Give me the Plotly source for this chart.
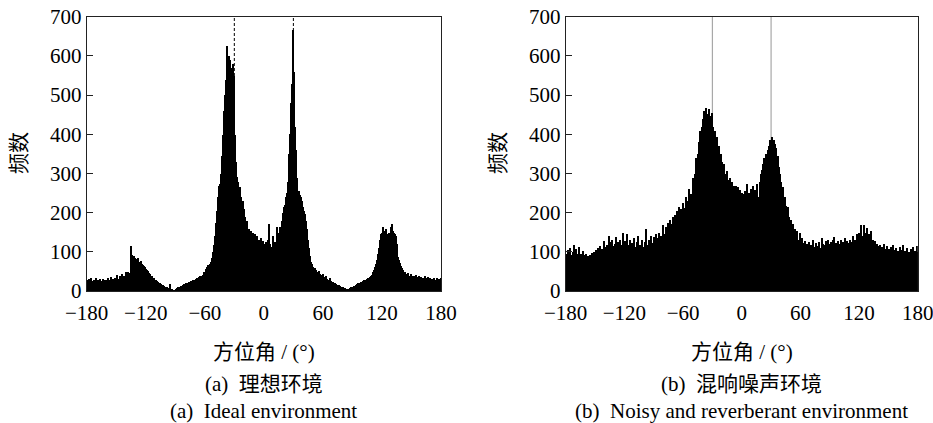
import numpy as np
import plotly.graph_objects as go

# ---------------- data ----------------
bin_start = -180
bin_width = 1

ideal_counts = [
    28, 22, 31, 25, 34, 27, 24, 30, 26, 33,      # -180..-171
    25, 29, 23, 31, 27, 26, 32, 24, 28, 30,      # -170..-161
    27, 33, 25, 29, 36, 28, 31, 26, 34, 30,      # -160..-151
    42, 32, 29, 38, 33, 45, 36, 40, 37, 48,      # -150..-141
    44, 50, 47, 45, 115, 92, 88, 90, 85, 82,     # -140..-131
    80, 84, 76, 74, 78, 70, 68, 65, 61, 58,      # -130..-121
    55, 52, 48, 46, 43, 40, 38, 35, 33, 30,      # -120..-111
    28, 26, 24, 22, 20, 19, 17, 15, 14, 12,      # -110..-101
    11, 10, 9, 8, 18, 7, 5, 4, 3, 4,             # -100..-91
    5, 8, 10, 9, 12, 14, 13, 16, 18, 17,         # -90..-81
    20, 19, 22, 24, 23, 26, 25, 28, 30, 29,      # -80..-71
    32, 34, 31, 36, 38, 35, 40, 42, 48, 45,      # -70..-61
    58, 62, 66, 64, 70, 75, 72, 85, 100, 118,    # -60..-51
    140, 175, 205, 240, 268, 275, 300, 345, 400, 460,  # -50..-41
    500, 540, 625, 585, 600, 590, 570, 545, 580, 550,  # -40..-31
    400, 330, 292, 280, 258, 265, 240, 224, 230, 210,  # -30..-21
    190, 175, 180, 150, 160, 145, 155, 135, 150, 128,  # -20..-11
    147, 125, 140, 118, 130, 122, 135, 115, 128, 120,  # -10..-1
    118, 125, 112, 130, 173, 120, 108, 113, 140, 118,  # 0..9
    110, 125, 105, 164, 120, 150, 164, 145, 180, 200,  # 10..19
    215, 220, 240, 250, 280, 350, 402, 480, 530, 666,  # 20..29
    560, 420, 360, 290, 249, 255, 245, 240, 230, 215,  # 30..39
    205, 198, 180, 160, 130, 110, 90, 75, 70, 62,      # 40..49
    58, 60, 54, 50, 48, 52, 44, 42, 40, 45,      # 50..59
    37, 35, 38, 32, 30, 28, 33, 26, 25, 23,      # 60..69
    20, 22, 19, 18, 17, 15, 16, 14, 12, 11,      # 70..79
    10, 9, 8, 7, 6, 5, 7, 8, 10, 9,              # 80..89
    12, 14, 13, 16, 18, 20, 19, 22, 24, 23,      # 90..99
    26, 28, 27, 30, 32, 35, 34, 37, 40, 42,      # 100..109
    48, 55, 62, 70, 80, 95, 110, 130, 147, 150,  # 110..119
    164, 155, 150, 160, 147, 145, 150, 140, 165, 173,  # 120..129
    155, 150, 147, 140, 120, 100, 88, 80, 72, 65,      # 130..139
    60, 54, 50, 48, 45, 42, 47, 40, 38, 44,      # 140..149
    37, 40, 35, 38, 42, 36, 33, 39, 34, 37,      # 150..159
    32, 35, 30, 38, 33, 29, 36, 31, 34, 28,      # 160..169
    32, 27, 35, 30, 26, 33, 29, 31, 28, 34,      # 170..179
]

noisy_counts = [
    95, 70, 105, 88, 110, 92, 85, 100, 118, 90,        # -180..-171
    108, 82, 96, 112, 78, 94, 88, 102, 86, 92,         # -170..-161
    95, 78, 90, 85, 93, 88, 97, 84, 100, 91,           # -160..-151
    105, 92, 110, 88, 115, 98, 108, 94, 128, 102,      # -150..-141
    112, 118, 96, 140, 110, 125, 103, 130, 115, 108,   # -140..-131
    120, 138, 112, 125, 100, 132, 118, 106, 150, 115,  # -130..-121
    128, 104, 145, 118, 110, 130, 98, 122, 108, 135,   # -120..-111
    112, 100, 126, 140, 105, 118, 96, 130, 112, 108,   # -110..-101
    125, 158, 110, 118, 132, 105, 140, 122, 115, 138,  # -100..-91
    128, 112, 145, 120, 135, 150, 118, 140, 132, 170,  # -90..-81
    145, 138, 165, 130, 175, 150, 182, 160, 172, 190,  # -80..-71
    178, 195, 185, 205, 188, 215, 200, 210, 198, 225,  # -70..-61
    212, 205, 240, 218, 230, 260, 225, 248, 236, 290,  # -60..-51
    270, 300, 340, 322, 350, 380, 360, 410, 395, 420,  # -50..-41
    440, 460, 445, 468, 452, 430, 465, 448, 440, 455,  # -40..-31
    420, 380, 410, 378, 395, 360, 372, 345, 350, 330,  # -30..-21
    312, 325, 300, 290, 308, 285, 275, 290, 268, 280,  # -20..-11
    262, 270, 255, 268, 248, 265, 242, 258, 235, 250,  # -10..-1
    232, 248, 222, 256, 240, 275, 228, 252, 230, 262,  # 0..9
    245, 268, 220, 258, 235, 275, 240, 195, 280, 300,  # 10..19
    310, 325, 340, 330, 350, 345, 360, 372, 385, 380,  # 20..29
    395, 370, 385, 375, 365, 340, 345, 318, 300, 280,  # 30..39
    260, 265, 230, 240, 218, 205, 215, 195, 190, 178,  # 40..49
    182, 165, 172, 150, 160, 140, 155, 130, 128, 148,  # 50..59
    118, 135, 122, 110, 128, 115, 120, 108, 125, 112,  # 60..69
    118, 105, 130, 112, 98, 122, 115, 108, 126, 100,   # 70..79
    110, 135, 120, 118, 105, 128, 115, 132, 108, 120,  # 80..89
    125, 112, 130, 118, 138, 115, 122, 108, 128, 120,  # 90..99
    118, 130, 112, 125, 120, 135, 110, 128, 118, 122,  # 100..109
    130, 115, 125, 140, 120, 132, 118, 145, 128, 150,  # 110..119
    135, 170, 142, 128, 168, 150, 135, 162, 130, 145,  # 120..129
    140, 155, 125, 132, 118, 128, 112, 120, 108, 115,  # 130..139
    110, 118, 105, 112, 98, 120, 108, 102, 115, 95,    # 140..149
    108, 100, 112, 96, 118, 105, 92, 110, 100, 104,    # 150..159
    98, 112, 90, 105, 118, 95, 102, 88, 110, 96,       # 160..169
    100, 85, 108, 95, 112, 90, 104, 98, 115, 100,      # 170..179
]

source_angles = [-30, 30]

x_ticks = [-180, -120, -60, 0, 60, 120, 180]
y_ticks = [0, 100, 200, 300, 400, 500, 600, 700]

y_title = "频数"
x_title = "方位角 / (°)"
captions_cn = ["(a)  理想环境", "(b)  混响噪声环境"]
captions_en = ["(a)  Ideal environment", "(b)  Noisy and reverberant environment"]

# ---------------- figure ----------------
W, H = 933, 423
FONT = "Liberation Serif, 'Times New Roman', 'Noto Sans CJK SC', serif"
CJK = "Liberation Serif, 'Noto Sans CJK SC', sans-serif"


def px(x):
    return x / W


def py(y):
    return 1 - y / H


centers = bin_start + bin_width * (np.arange(len(ideal_counts)) + 0.5)

# pixel geometry of the two plot areas
panels = [
    dict(x0=86.7, x1=441.0, counts=ideal_counts, line=dict(color="black", width=1, dash="3px,2px")),
    dict(x0=565.7, x1=917.8, counts=noisy_counts, line=dict(color="#a8a8a8", width=1.2)),
]
y_top, y_bot = 16.7, 291.0

fig = go.Figure()
for i, p in enumerate(panels):
    xa = "x" if i == 0 else "x2"
    ya = "y" if i == 0 else "y2"
    fig.add_trace(go.Bar(
        x=centers, y=p["counts"], width=bin_width,
        marker=dict(color="black", line=dict(width=0)),
        xaxis=xa, yaxis=ya, showlegend=False, hoverinfo="x+y",
    ))
    for a in source_angles:
        fig.add_shape(type="line", xref=xa, yref=ya, x0=a, x1=a, y0=0, y1=700,
                      line=p["line"], layer="below")

axis_common = dict(showline=True, linecolor="#222", linewidth=1.2, mirror=True,
                   showgrid=False, zeroline=False, automargin=False,
                   ticklabeloverflow="allow",
                   tickfont=dict(family=FONT, size=21, color="black"))

layout = dict(width=W, height=H, margin=dict(l=0, r=0, t=0, b=0, autoexpand=False),
              paper_bgcolor="white", plot_bgcolor="white", bargap=0,
              showlegend=False)
for i, p in enumerate(panels):
    sfx = "" if i == 0 else "2"
    layout["xaxis" + sfx] = dict(axis_common, domain=[px(p["x0"]), px(p["x1"])],
                                 range=[-180, 180], tickvals=x_ticks, ticks="",
                                 anchor="y" + sfx, ticklabelstandoff=3)
    layout["yaxis" + sfx] = dict(axis_common, domain=[py(y_bot), py(y_top)],
                                 range=[0, 700], tickvals=y_ticks, ticks="inside",
                                 ticklen=6, tickwidth=1.2, tickcolor="#222",
                                 anchor="x" + sfx, ticklabelstandoff=0)
fig.update_layout(**layout)

ann = []
y_title_x = [19, 498]
for i, p in enumerate(panels):
    cx = (p["x0"] + p["x1"]) / 2
    ann.append(dict(x=px(y_title_x[i]), y=py(153), xref="paper", yref="paper",
                    text=y_title, textangle=-90, showarrow=False,
                    font=dict(family=CJK, size=21, color="black"),
                    xanchor="center", yanchor="middle"))
    ann.append(dict(x=px(cx), y=py(352), xref="paper", yref="paper",
                    text=x_title, showarrow=False,
                    font=dict(family=CJK, size=21, color="black"),
                    xanchor="center", yanchor="middle"))
    ann.append(dict(x=px(cx), y=py(384), xref="paper", yref="paper",
                    text=captions_cn[i], showarrow=False,
                    font=dict(family=CJK, size=21, color="black"),
                    xanchor="center", yanchor="middle"))
    ann.append(dict(x=px(cx), y=py(411), xref="paper", yref="paper",
                    text=captions_en[i], showarrow=False,
                    font=dict(family=FONT, size=21, color="black"),
                    xanchor="center", yanchor="middle"))
fig.update_layout(annotations=ann)

# remove the browser's default 8px page margin so the figure fills the window
fig.write_html("out.html", config={"displayModeBar": False},
               post_script="document.body.style.margin='0';document.body.style.overflow='hidden';")
